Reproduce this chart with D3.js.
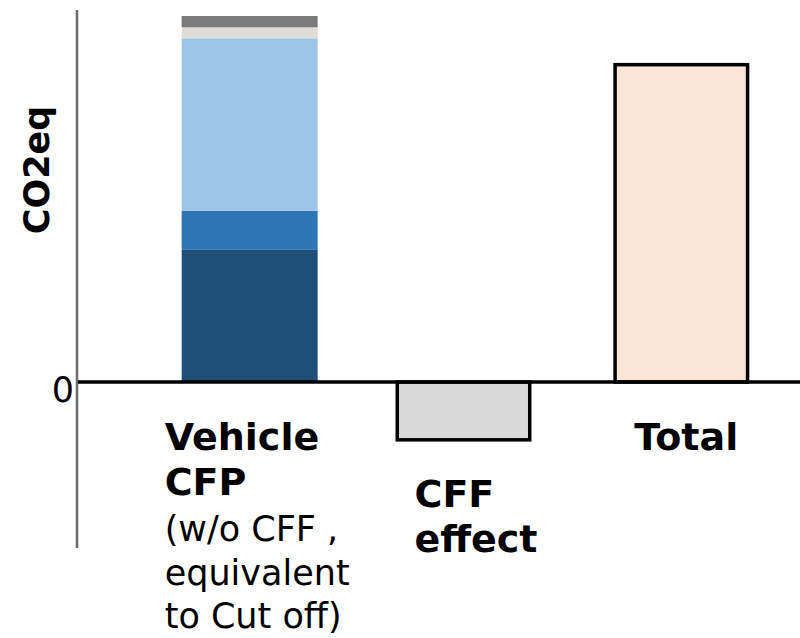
<!DOCTYPE html>
<html>
<head>
<meta charset="utf-8">
<script src="https://cdn.jsdelivr.net/npm/d3@7"></script>
<style>
  html, body { margin: 0; padding: 0; background: #fff; }
  svg { display: block; }
  text { font-family: "DejaVu Sans", Verdana, sans-serif; fill: #000; }
</style>
</head>
<body>
<svg id="chart" width="800" height="638"></svg>
<script>
// Categories along the x axis
const categories = ["vehicle", "cff", "total"];

// Vehicle CFP breakdown, stacked bottom to top
const stackKeys = ["s1", "s2", "s3", "s4", "s5"];
const stackValues = [36.1, 10.7, 47.1, 3.0, 3.1];
const stackColors = ["#1f4e79", "#2e75b6", "#9dc3e6", "#dfdbd6", "#7a7a7a"];

// Single-value bars
const cffValue = -15.8;
const totalValue = 86.7;

// Category labels: [text, bold] lines
const labelLines = {
  vehicle: [["Vehicle", true], ["CFP", true], ["(w/o CFF ,", false], ["equivalent", false], ["to Cut off)", false]],
  cff: [["CFF", true], ["effect", true]],
  total: [["Total", true]]
};
const yTickValues = [0];
const yTitle = "CO2eq";

const svg = d3.select("#chart");

const x = d3.scaleBand()
  .domain(categories)
  .range([77, 854])
  .paddingInner(0.37)
  .paddingOuter(0.485);

const y = d3.scaleLinear()
  .domain([0, 100])
  .range([382, 16]);

// Stacked bar
const stackRow = {};
stackKeys.forEach((k, i) => stackRow[k] = stackValues[i]);
const series = d3.stack().keys(stackKeys)([stackRow]);

svg.append("g")
  .selectAll("rect")
  .data(series)
  .join("rect")
  .attr("x", x("vehicle"))
  .attr("width", x.bandwidth())
  .attr("y", d => y(d[0][1]))
  .attr("height", d => y(d[0][0]) - y(d[0][1]))
  .attr("fill", (d, i) => stackColors[i]);

// Outlined bars
const outlined = [
  { key: "cff", value: cffValue, fill: "#d9d9d9", shift: -2 },
  { key: "total", value: totalValue, fill: "#fbe5d6", shift: 0 }
];
svg.append("g")
  .selectAll("rect")
  .data(outlined)
  .join("rect")
  .attr("x", d => x(d.key) + 1.75 + d.shift)
  .attr("width", x.bandwidth() - 3.5)
  .attr("y", d => y(Math.max(0, d.value)))
  .attr("height", d => Math.abs(y(d.value) - y(0)))
  .attr("fill", d => d.fill)
  .attr("stroke", "#000")
  .attr("stroke-width", 3.5);

// Vertical axis line
svg.append("line")
  .attr("x1", 77).attr("x2", 77)
  .attr("y1", 10).attr("y2", 548)
  .attr("stroke", "#6b6b6b")
  .attr("stroke-width", 2.5);

// Zero baseline
svg.append("line")
  .attr("x1", 78).attr("x2", 800)
  .attr("y1", y(0)).attr("y2", y(0))
  .attr("stroke", "#000")
  .attr("stroke-width", 3.5);

// Tick label
const yAxis = svg.append("g")
  .attr("transform", "translate(74,0)")
  .call(d3.axisLeft(y).tickValues(yTickValues).tickSize(0).tickPadding(0).tickFormat(d3.format("d")));
yAxis.select(".domain").remove();
yAxis.selectAll("text")
  .attr("font-family", "DejaVu Sans, Verdana, sans-serif")
  .attr("font-size", 35)
  .attr("fill", "#000")
  .attr("dy", "0.55em");

// Axis title
svg.append("text")
  .attr("transform", "translate(49,170) rotate(-90)")
  .attr("text-anchor", "middle")
  .attr("font-weight", "bold")
  .attr("font-size", 35)
  .text(yTitle);

// Category labels
const labelOffset = { vehicle: -17, cff: 17, total: 21 };
const firstBaseline = { vehicle: 450, cff: 507, total: 450 };
const lineGap = [0, 45, 91, 135, 178];
categories.forEach(c => {
  const g = svg.append("g");
  g.selectAll("text")
    .data(labelLines[c])
    .join("text")
    .attr("x", x(c) + labelOffset[c])
    .attr("y", (d, i) => firstBaseline[c] + lineGap[i])
    .attr("font-weight", d => d[1] ? "bold" : "normal")
    .attr("font-size", d => d[1] ? 38 : 35)
    .text(d => d[0]);
});
</script>
</body>
</html>
